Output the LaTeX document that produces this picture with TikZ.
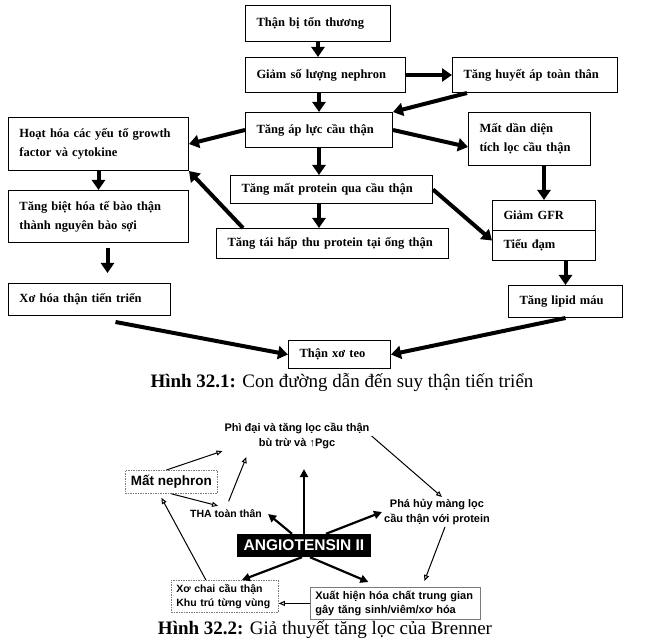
\documentclass[tikz,border=0pt]{standalone}
\usepackage{fontspec}
\setmainfont{Liberation Serif}
\setsansfont{Liberation Sans}
\usetikzlibrary{arrows.meta,calc}
\definecolor{ink}{HTML}{000000}
\definecolor{dashgray}{HTML}{7A7A7A}
\tikzset{box/.style={draw=ink,line width=1pt,inner xsep=11pt,inner ysep=0pt,align=left,anchor=north west,font=\bfseries\fontsize{12.5}{19}\selectfont},
fat/.style={-{Triangle[length=10pt,width=13pt]},line width=4pt,ink},
mid/.style={-{Triangle[length=8pt,width=8pt]},line width=2.2pt,ink},
thin/.style={-{Triangle[open,length=6pt,width=5pt]},line width=1pt,ink},
blab/.style={font=\sffamily\bfseries\fontsize{11}{15}\selectfont,align=center,inner sep=2pt},
dbox/.style={draw=dashgray,dash pattern=on 1.5pt off 1pt,line width=.8pt,anchor=north west,inner xsep=5pt,inner ysep=0pt},
figcap/.style={font=\fontsize{19}{21}\selectfont}}
\begin{document}
\begin{tikzpicture}[x=1pt,y=-1pt]
\fill[white] (0,0) rectangle (651,641);
% Hinh 32.1
\node[box,text width=123,minimum height=36] (b1) at (245,5) {Thận bị tổn thương};
\node[box,text width=138,minimum height=35] (b2) at (245,57) {Giảm số lượng nephron};
\node[box,text width=143,minimum height=35] (b3) at (452,57) {Tăng huyết áp toàn thân};
\node[box,text width=125,minimum height=35] (b4) at (245,112) {Tăng áp lực cầu thận};
\node[box,text width=158,minimum height=53] (b5) at (8,117) {Hoạt hóa các yếu tố growth\\factor và cytokine};
\node[box,text width=100,minimum height=53] (b6) at (468,112) {Mất dần diện\\tích lọc cầu thận};
\node[box,text width=180,minimum height=28] (b7) at (230,175) {Tăng mất protein qua cầu thận};
\node[box,text width=158,minimum height=52] (b8) at (8,190) {Tăng biệt hóa tế bào thận\\thành nguyên bào sợi};
\node[box,text width=210,minimum height=30] (b9) at (216,228) {Tăng tái hấp thu protein tại ống thận};
\node[box,text width=81,minimum height=30] (b10a) at (492,200) {Giảm GFR};
\node[box,text width=81,minimum height=30] (b10b) at (492,230) {Tiểu đạm};
\node[box,text width=92,minimum height=32] (b11) at (508,285) {Tăng lipid máu};
\node[box,text width=140,minimum height=32] (b12) at (8,283) {Xơ hóa thận tiến triển};
\node[box,text width=80,minimum height=28] (b13) at (288,340) {Thận xơ teo};

\draw[fat] (b1.south) -- (b1.south |- b2.north);
\draw[fat] (b2.east) -- (b3.west);
\draw[fat] (b4.north |- b2.south) -- (b4.north);
\draw[fat] ([xshift=15pt]b3.south west) -- (b4.north east);
\draw[fat] (b4.west) -- (b5.east);
\draw[fat] (b4.east) -- ([yshift=-8pt]b6.west);
\draw[fat] (b4.south) -- (b4.south |- b7.north);
\draw[fat] (b5.south) -- (b8.north);
\draw[fat] (b7.south -| b4.south) -- (b9.north -| b4.south);
\draw[fat] ([xshift=27pt]b9.north west) -- (b5.south east);
\draw[fat] (b10a.north |- b6.south) -- (b10a.north);
\draw[fat] (b7.east) -- ([yshift=5pt]b10b.west);
\draw[fat] (b11.north |- b10b.south) -- (b11.north);
\draw[fat,shorten <=5pt,shorten >=10pt] ([xshift=9pt]b8.south) -- ([xshift=9pt]b8.south |- b12.north);
\draw[fat] ([xshift=26pt,yshift=-6pt]b12.south) -- (b13.west);
\draw[fat] (b11.south) -- (b13.east);

\node[figcap] (cap1) at (342,382) {\textbf{Hình 32.1:} Con đường dẫn đến suy thận tiến triển};

% Hinh 32.2
\node[blab] (p1) at (297,436) {Phì đại và tăng lọc cầu thận\\bù trừ và ↑Pgc};
\node[dbox,minimum width=92,minimum height=23,font=\sffamily\bfseries\fontsize{13.5}{15}\selectfont] (mn) at (125,470) {Mất nephron};
\node[blab,font=\sffamily\bfseries\fontsize{10.5}{15}\selectfont] (tha) at (226,514) {THA toàn thân};
\node[blab] (ph) at (437,512) {Phá hủy màng lọc\\cầu thận với protein};
\node[fill=ink,text=white,minimum width=134,minimum height=23,inner sep=0pt,font=\sffamily\bfseries\fontsize{15.5}{17}\selectfont] (ang) at (304,545.5) {ANGIOTENSIN II};
\node[dbox,text width=97,minimum height=32,align=left,font=\sffamily\bfseries\fontsize{10.5}{14}\selectfont] (xc) at (171,580) {Xơ chai cầu thận\\Khu trú từng vùng};
\node[draw=dashgray,line width=.8pt,anchor=north west,inner xsep=5pt,inner ysep=0pt,text width=160,minimum height=32,align=left,font=\sffamily\bfseries\fontsize{11}{14}\selectfont] (xh) at (310,587) {Xuất hiện hóa chất trung gian\\gây tăng sinh/viêm/xơ hóa};

\draw[thin] ([xshift=-5pt]mn.north) -- (p1.south west);
\draw[thin,shorten <=7pt] (tha.north) -- ([xshift=24pt,yshift=-6pt]p1.south west);
\draw[thin] (mn.south) -- ([xshift=-8pt,yshift=2pt]tha.north);
\draw[thin] (p1.east) -- ([xshift=5pt]ph.north);
\draw[thin] ([xshift=8pt]ph.south) -- ([xshift=29pt,yshift=6pt]xh.north);
\draw[thin] (xh.west) -- (xh.west -| xc.east);
\draw[thin] ([xshift=-19pt]xc.north) -- ([xshift=-10pt,yshift=-4pt]mn.south);

\draw[mid,shorten >=18pt] (ang.north) -- (ang.north |- p1.south);
\draw[mid] ([xshift=-12pt]ang.north) -- ([xshift=4pt]tha.east);
\draw[mid] ([xshift=22pt]ang.north) -- (ph.west);
\draw[mid] ([xshift=-2pt]ang.south) -- ([xshift=17pt]xc.north);
\draw[mid] ([xshift=6pt]ang.south) -- ([xshift=-27pt,yshift=5pt]xh.north);

\node[figcap] (cap2) at (325,630) {\textbf{Hình 32.2:} Giả thuyết tăng lọc của Brenner};
\end{tikzpicture}
\end{document}
